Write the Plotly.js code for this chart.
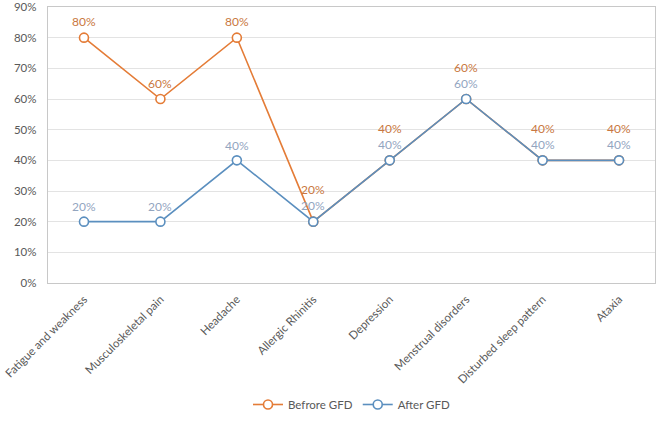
<!DOCTYPE html>
<html>
<head>
<meta charset="utf-8">
<script src="https://cdn.plot.ly/plotly-3.0.1.min.js"></script>
<style>html,body{margin:0;padding:0;background:#fff;}#chart{width:663px;height:425px;}</style>
</head>
<body>
<div id="chart"></div>
<script>
const categories = ["Fatigue and weakness","Musculoskeletal pain","Headache","Allergic Rhinitis","Depression","Menstrual disorders","Disturbed sleep pattern","Ataxia"];
const beforeGFD = [80, 60, 80, 20, 40, 60, 40, 40];
const afterGFD = [20, 20, 40, 20, 40, 60, 40, 40];
const seriesNames = ["Befrore GFD", "After GFD"];
const yTickVals = [0, 10, 20, 30, 40, 50, 60, 70, 80, 90];
const yTickText = ["0%", "10%", "20%", "30%", "40%", "50%", "60%", "70%", "80%", "90%"];

const orange = "#E47C37";
const blue = "#5B8FBF";
const orangeLbl = "#C97841";
const blueLbl = "#93A5BF";
const font = "Lato, Open Sans, sans-serif";

const traces = [
  {x: categories, y: beforeGFD, name: seriesNames[0], type: "scatter", mode: "lines+markers",
   line: {color: orange, width: 1.6}, marker: {symbol: "circle", size: 9, color: "#fff", line: {color: orange, width: 1.6}}},
  {x: categories, y: afterGFD, name: seriesNames[1], type: "scatter", mode: "lines+markers",
   line: {color: blue, width: 1.6}, marker: {symbol: "circle", size: 9, color: "#fff", line: {color: blue, width: 1.6}}}
];

const annotations = [];
categories.forEach((c, i) => {
  const same = beforeGFD[i] === afterGFD[i];
  annotations.push({x: c, y: beforeGFD[i], text: beforeGFD[i] + "%", showarrow: false,
    yshift: same ? 32 : 16, font: {family: font, size: 12, color: orangeLbl}});
  annotations.push({x: c, y: afterGFD[i], text: afterGFD[i] + "%", showarrow: false,
    yshift: same ? 16 : 15, font: {family: font, size: 12, color: blueLbl}});
});

const layout = {
  width: 663, height: 425,
  margin: {l: 48, r: 8, t: 7, b: 141},
  paper_bgcolor: "#fff", plot_bgcolor: "#fff",
  font: {family: font, size: 12, color: "#595959"},
  showlegend: true,
  legend: {orientation: "h", x: 0.5, xanchor: "center", y: -0.435, yanchor: "middle",
    font: {family: font, size: 11.5, color: "#595959"}, traceorder: "normal"},
  xaxis: {type: "category", tickangle: -45, automargin: false, showline: true, mirror: true, linecolor: "#C8C8C8", linewidth: 1.2,
    showgrid: false, ticks: "", ticklabelstandoff: 4, tickfont: {family: font, size: 11.5, color: "#595959"}},
  yaxis: {range: [0, 90], automargin: false, tickmode: "array", tickvals: yTickVals, ticktext: yTickText, showline: true, mirror: true, linecolor: "#C8C8C8", linewidth: 1.2,
    ticklabelstandoff: 8,
    gridcolor: "#E3E3E3", gridwidth: 1, zeroline: false, ticks: "", tickfont: {family: font, size: 11.5, color: "#595959"}},
  annotations: annotations
};

Plotly.newPlot("chart", traces, layout, {displayModeBar: false, staticPlot: true});
</script>
</body>
</html>
